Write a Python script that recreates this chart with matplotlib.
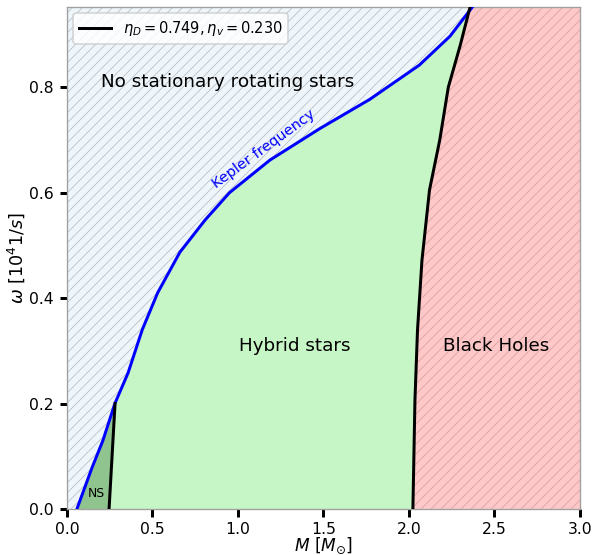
import matplotlib
matplotlib.use("Agg")
import matplotlib.pyplot as plt

plt.rcParams.update({"hatch.linewidth": 0.5, "font.family": "DejaVu Sans"})

# Kepler frequency curve (M in solar masses, omega in 10^4 1/s)
kep_M = [0.058, 0.146, 0.21, 0.28, 0.357, 0.44, 0.53, 0.66, 0.807, 0.95,
         1.187, 1.48, 1.77, 2.06, 2.24, 2.37]
kep_w = [0.0, 0.078, 0.13, 0.2, 0.258, 0.34, 0.41, 0.487, 0.548, 0.6,
         0.662, 0.722, 0.777, 0.842, 0.897, 0.952]

# black-hole boundary (maximum mass line)
bh_M = [2.023, 2.035, 2.05, 2.076, 2.12, 2.18, 2.23, 2.30, 2.357]
bh_w = [0.0, 0.207, 0.34, 0.472, 0.605, 0.70, 0.80, 0.88, 0.952]

# neutron star / hybrid separation
ns_M = [0.246, 0.281]
ns_w = [0.0, 0.2]

XMAX, YMAX = 3.0, 0.952

fig = plt.figure(figsize=(593 / 120, 555 / 120), dpi=120)
ax = fig.add_axes([0.113, 0.083, 0.865, 0.904])

# background: no stationary rotating stars
ax.fill_betweenx([0, YMAX], 0, XMAX, facecolor="#eef6fb", edgecolor="#bcc0c4",
                 hatch="////", linewidth=0)
# hybrid stars (between Kepler and BH line)
ax.fill(kep_M + bh_M[::-1], kep_w + bh_w[::-1], color="#c6f5c6", lw=0)
# neutron stars
ns_poly_M = [kep_M[0]] + kep_M[1:4] + ns_M[::-1]
ns_poly_w = [kep_w[0]] + kep_w[1:4] + ns_w[::-1]
ax.fill(ns_poly_M, ns_poly_w, color="#8fc48f", lw=0)
# black holes
ax.fill_betweenx(bh_w, bh_M, XMAX, facecolor="#ffc8c8", edgecolor="#dca4a4",
                 hatch="////", linewidth=0)

ax.plot(kep_M, kep_w, color="blue", lw=1.8, zorder=3)
ax.plot(bh_M, bh_w, color="black", lw=1.8, zorder=4,
        label=r"$\eta_D = 0.749, \eta_v = 0.230$")
ax.plot(ns_M, ns_w, color="black", lw=1.8, zorder=4)

ax.text(0.885, 0.603, "Kepler frequency", color="blue", fontsize=8.7,
        rotation=36, ha="left", va="bottom", rotation_mode="anchor")
ax.text(0.94, 0.81, "No stationary rotating stars", fontsize=11,
        ha="center", va="center")
ax.text(1.33, 0.31, "Hybrid stars", fontsize=11, ha="center", va="center")
ax.text(2.51, 0.31, "Black Holes", fontsize=11, ha="center", va="center")
ax.text(0.17, 0.03, "NS", fontsize=7.4, ha="center", va="center")

ax.set_xlim(0, XMAX)
ax.set_ylim(0, YMAX)
ax.set_xticks([0, 0.5, 1.0, 1.5, 2.0, 2.5, 3.0])
ax.set_yticks([0, 0.2, 0.4, 0.6, 0.8])
ax.tick_params(length=4.5, width=1.8, labelsize=9.4, direction="out")
for s in ax.spines.values():
    s.set_color("#a0a0a0")
    s.set_linewidth(0.8)
ax.set_xlabel(r"$M\ [M_{\odot}]$", fontsize=10.2)
ax.set_ylabel(r"$\omega\ [10^4 1/s]$", fontsize=10.6)
ax.xaxis.set_label_coords(0.5, -0.054)
ax.yaxis.set_label_coords(-0.078, 0.5)
ax.legend(loc="upper left", fontsize=8.8, handlelength=2.2, borderaxespad=0.4)

fig.savefig("out.png", dpi=120)
